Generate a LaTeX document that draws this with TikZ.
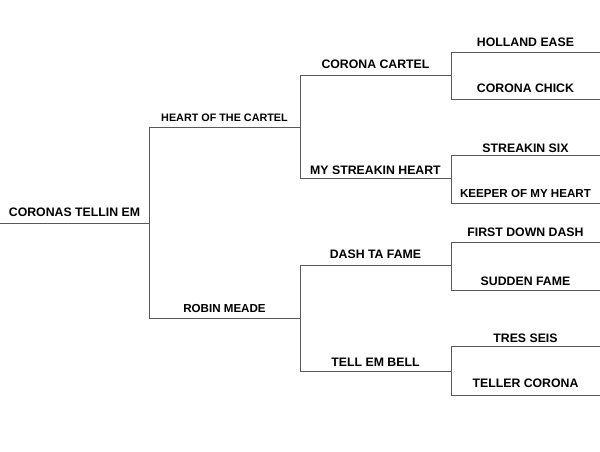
\documentclass[tikz,border=0pt]{standalone}
\usepackage{fontspec}
\setmainfont{Liberation Sans}
\usetikzlibrary{positioning}

\begin{document}
\begin{tikzpicture}[x=1pt, y=-1pt,
    line/.style={draw=black!65, line width=1pt},
    horse/.style={anchor=base, inner sep=0pt, font=\fontsize{12.3}{14}\selectfont\bfseries},
    smallhorse/.style={horse, font=\fontsize{11.6}{13}\selectfont\bfseries}]
    \useasboundingbox (0,0) rectangle (600,451);

    % ends of every line
    \coordinate (tellin-l) at (0,223);     \coordinate (tellin-r) at (149,223);
    \coordinate (heart-l) at (149,127);    \coordinate (heart-r) at (300,127);
    \coordinate (robin-l) at (149,318);    \coordinate (robin-r) at (300,318);
    \coordinate (cartel-l) at (300,75);    \coordinate (cartel-r) at (451,75);
    \coordinate (streakin-l) at (300,178); \coordinate (streakin-r) at (451,178);
    \coordinate (dash-l) at (300,265);     \coordinate (dash-r) at (451,265);
    \coordinate (bell-l) at (300,371);     \coordinate (bell-r) at (451,371);
    \coordinate (holland-l) at (451,52);   \coordinate (holland-r) at (600,52);
    \coordinate (chick-l) at (451,99);     \coordinate (chick-r) at (600,99);
    \coordinate (six-l) at (451,155);      \coordinate (six-r) at (600,155);
    \coordinate (keeper-l) at (451,203);   \coordinate (keeper-r) at (600,203);
    \coordinate (first-l) at (451,242);    \coordinate (first-r) at (600,242);
    \coordinate (sudden-l) at (451,290);   \coordinate (sudden-r) at (600,290);
    \coordinate (tres-l) at (451,346);     \coordinate (tres-r) at (600,346);
    \coordinate (teller-l) at (451,395);   \coordinate (teller-r) at (600,395);

    % names
    \node [horse] (tellin) at (74.5,216.4) {CORONAS TELLIN EM};
    \node [smallhorse, font=\fontsize{10.8}{13}\selectfont\bfseries] (heart) at (224.5,121) {HEART OF THE CARTEL};
    \node [smallhorse] (robin) at (224.5,312.2) {ROBIN MEADE};
    \node [horse] (cartel) at (375.5,68.4) {CORONA CARTEL};
    \node [horse] (streakin) at (375.5,174.4) {MY STREAKIN HEART};
    \node [horse] (dash) at (375.5,258.4) {DASH TA FAME};
    \node [horse] (bell) at (375.5,366.4) {TELL EM BELL};
    \node [horse] (holland) at (525.5,46.4) {HOLLAND EASE};
    \node [horse] (chick) at (525.5,92.4) {CORONA CHICK};
    \node [horse] (six) at (525.5,152.4) {STREAKIN SIX};
    \node [smallhorse] (keeper) at (525.5,197.4) {KEEPER OF MY HEART};
    \node [horse] (first) at (525.5,236.4) {FIRST DOWN DASH};
    \node [horse] (sudden) at (525.5,285.4) {SUDDEN FAME};
    \node [horse] (tres) at (525.5,342.4) {TRES SEIS};
    \node [horse] (teller) at (525.5,387.4) {TELLER CORONA};

    % lines under the names
    \foreach \h in {tellin,heart,robin,cartel,streakin,dash,bell,holland,chick,six,keeper,first,sudden,tres,teller}
        \draw [line] (\h-l) -- (\h-r);

    % brackets
    \draw [line] (heart-l) -- (robin-l);
    \draw [line] (cartel-l) -- (streakin-l);
    \draw [line] (dash-l) -- (bell-l);
    \draw [line] (holland-l) -- (chick-l);
    \draw [line] (six-l) -- (keeper-l);
    \draw [line] (first-l) -- (sudden-l);
    \draw [line] (tres-l) -- (teller-l);
\end{tikzpicture}
\end{document}
